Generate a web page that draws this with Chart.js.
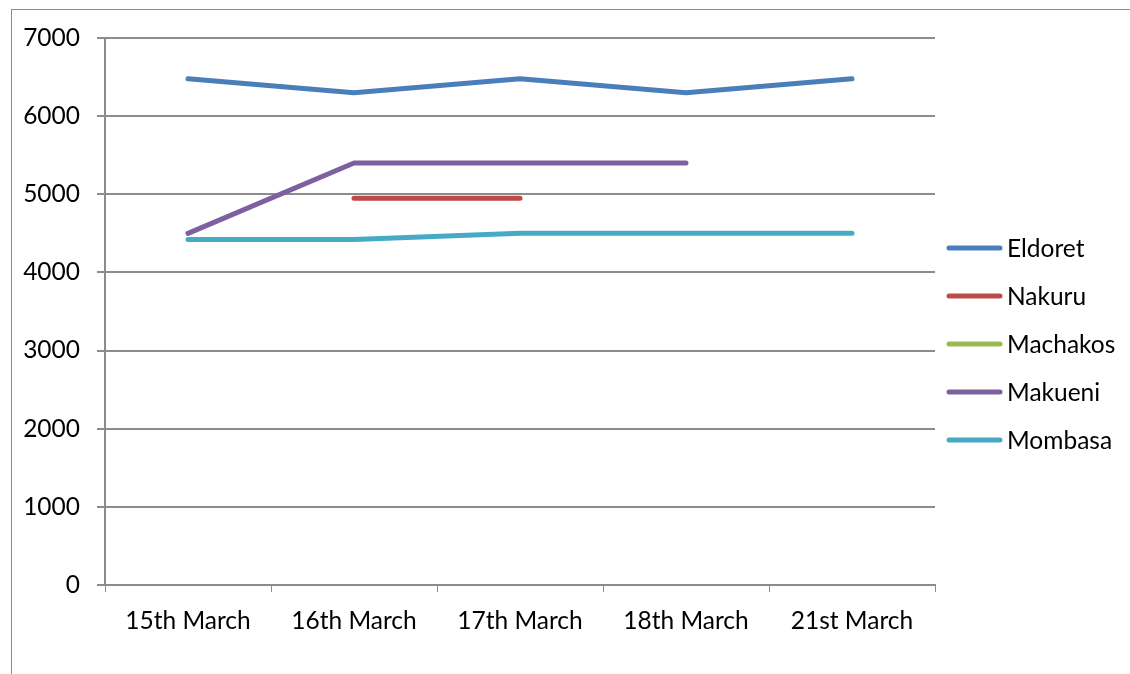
<!DOCTYPE html>
<html>
<head>
<meta charset="utf-8">
<script src="https://cdn.jsdelivr.net/npm/chart.js@4"></script>
<style>
  html, body { margin: 0; padding: 0; background: #ffffff; }
  #wrap { width: 1130px; height: 674px; position: relative; }
</style>
</head>
<body>
<div id="wrap"><canvas id="c" width="1130" height="674"></canvas></div>
<script>
const categories = ['15th March', '16th March', '17th March', '18th March', '21st March'];
const seriesNames = ['Eldoret', 'Nakuru', 'Machakos', 'Makueni', 'Mombasa'];
const eldoret  = [6480, 6300, 6480, 6300, 6480];
const nakuru   = [null, 4950, 4950, null, null];
const machakos = [null, null, null, null, null];
const makueni  = [4500, 5400, 5400, 5400, null];
const mombasa  = [4420, 4420, 4500, 4500, 4500];
const yTicks = [0, 1000, 2000, 3000, 4000, 5000, 6000, 7000];
const seriesColors = ['#4a7ebb', '#be4b48', '#98b954', '#7d60a0', '#46aac5'];

const FONT = 'Lato, "Open Sans", sans-serif';
const GRID = '#8c8c8c';

const values = [eldoret, nakuru, machakos, makueni, mombasa];
const datasets = seriesNames.map((name, i) => ({
  label: name,
  data: values[i],
  borderColor: seriesColors[i],
  backgroundColor: seriesColors[i],
  borderWidth: 5,
  borderCapStyle: 'round',
  borderJoinStyle: 'round',
  pointRadius: 0,
  pointHoverRadius: 0,
  tension: 0,
  spanGaps: false,
  fill: false
}));

const framePlugin = {
  id: 'frame',
  beforeDraw(chart) {
    const ctx = chart.ctx;
    ctx.save();
    ctx.fillStyle = '#ffffff';
    ctx.fillRect(0, 0, chart.width, chart.height);
    ctx.strokeStyle = '#8c8c8c';
    ctx.lineWidth = 1;
    ctx.strokeRect(11.5, 9.5, 3000, 3000);
    ctx.restore();
  }
};

const legendPlugin = {
  id: 'sideLegend',
  afterDraw(chart) {
    const ctx = chart.ctx;
    const x0 = 949, x1 = 1000, tx = 1007;
    const yStart = 248, step = 48;
    ctx.save();
    ctx.font = '24.5px ' + FONT;
    ctx.textBaseline = 'middle';
    ctx.textAlign = 'left';
    chart.data.datasets.forEach((ds, i) => {
      const y = yStart + i * step;
      ctx.strokeStyle = ds.borderColor;
      ctx.lineWidth = 5;
      ctx.lineCap = 'round';
      ctx.beginPath();
      ctx.moveTo(x0, y);
      ctx.lineTo(x1, y);
      ctx.stroke();
      ctx.fillStyle = '#000000';
      ctx.fillText(ds.label, tx, y + 1);
    });
    ctx.restore();
  }
};

new Chart(document.getElementById('c'), {
  type: 'line',
  data: { labels: categories, datasets },
  plugins: [framePlugin, legendPlugin],
  options: {
    responsive: false,
    animation: false,
    layout: { padding: { left: 0, right: 195, top: 38, bottom: 0 } },
    plugins: {
      legend: { display: false },
      tooltip: { enabled: false }
    },
    scales: {
      x: {
        type: 'category',
        offset: true,
        afterFit(scale) { scale.height = 89; },
        grid: {
          offset: true,
          drawOnChartArea: false,
          drawTicks: true,
          tickLength: 7,
          color: GRID,
          lineWidth: 1
        },
        border: { display: true, color: GRID, width: 2 },
        ticks: {
          color: '#000000',
          font: { family: FONT, size: 24.5 },
          padding: 14,
          maxRotation: 0,
          autoSkip: false
        }
      },
      y: {
        min: 0,
        max: 7000,
        afterFit(scale) { scale.width = 105; },
        afterBuildTicks(scale) { scale.ticks = yTicks.map(v => ({ value: v })); },
        grid: {
          drawOnChartArea: true,
          drawTicks: true,
          tickLength: 8,
          color: GRID,
          lineWidth: 2
        },
        border: { display: true, color: GRID, width: 2 },
        ticks: {
          color: '#000000',
          font: { family: FONT, size: 24.5 },
          padding: 17,
          callback: (v) => String(v)
        }
      }
    }
  }
});
</script>
</body>
</html>
